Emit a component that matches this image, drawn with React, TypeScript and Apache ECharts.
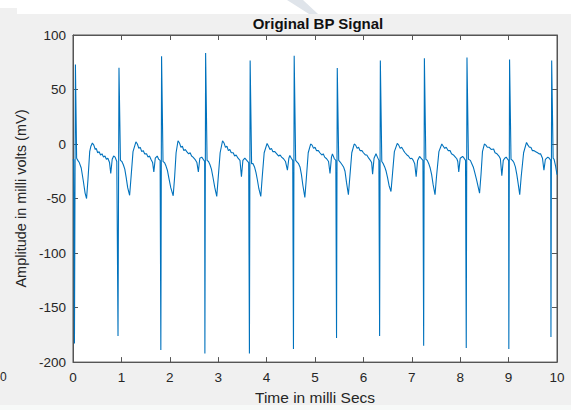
import React, { useEffect, useRef } from "react";
import * as echarts from "echarts";

// Original BP signal as [time (ms), amplitude (mV)] per beat
const beat01 = [[0.0, -15], [0.015, -14], [0.03, -183], [0.05, 73], [0.075, -13], [0.1, -15], [0.13, -17], [0.17, -22], [0.21, -33], [0.25, -45], [0.28, -50], [0.31, -32], [0.345, -7], [0.37, -2], [0.4, 1], [0.43, -1], [0.46, -5], [0.48, -4], [0.51, -8], [0.54, -7], [0.57, -10], [0.6, -9], [0.63, -12], [0.66, -11], [0.69, -14], [0.72, -13], [0.755, -17], [0.78, -27], [0.81, -14], [0.84, -11], [0.87, -12], [0.905, -16]];
const beat02 = [[0.93, -176], [0.95, 70], [0.98, -15], [1.01, -16], [1.04, -19], [1.07, -23], [1.1, -31], [1.13, -40], [1.17, -47], [1.2, -30], [1.24, -7], [1.3, 2], [1.33, 0], [1.36, -4], [1.39, -3], [1.42, -7], [1.45, -6], [1.48, -9], [1.52, -9], [1.55, -12], [1.58, -11], [1.61, -14], [1.645, -17], [1.67, -25.5], [1.7, -13], [1.74, -11], [1.77, -14], [1.8, -15]];
const beat03 = [[1.815, -189], [1.83, 80.5], [1.86, -16], [1.89, -17], [1.92, -20], [1.95, -24], [1.98, -31], [2.02, -40], [2.07, -47.5], [2.1, -30], [2.13, -8], [2.17, 3], [2.2, 1], [2.23, -3], [2.26, -2], [2.29, -6], [2.32, -5], [2.35, -7], [2.39, -9], [2.42, -8], [2.45, -11], [2.48, -12], [2.52, -14], [2.56, -17], [2.59, -25.5], [2.62, -13], [2.66, -12], [2.69, -14], [2.72, -16]];
const beat04 = [[2.725, -192], [2.74, 83.5], [2.77, -15], [2.8, -16], [2.83, -19], [2.86, -23], [2.89, -30], [2.93, -40], [2.97, -48], [3.0, -31], [3.04, -8], [3.09, 3], [3.12, 1], [3.15, -3], [3.18, -2], [3.21, -6], [3.24, -5], [3.27, -8], [3.31, -8], [3.34, -11], [3.37, -10], [3.41, -13], [3.45, -15], [3.48, -30], [3.51, -15], [3.55, -13], [3.59, -15], [3.63, -17]];
const beat05 = [[3.645, -192], [3.66, 76.6], [3.69, -18], [3.72, -18], [3.75, -21], [3.78, -26], [3.81, -33], [3.84, -41], [3.88, -48], [3.91, -30], [3.95, -8], [4.01, 0.6], [4.04, -2], [4.07, -5], [4.1, -4], [4.13, -7], [4.17, -7], [4.21, -9], [4.25, -11], [4.28, -10], [4.31, -12], [4.35, -13.5], [4.39, -16], [4.43, -24], [4.46, -13], [4.48, -10.5], [4.51, -13], [4.54, -15]];
const beat06 = [[4.555, -188], [4.57, 81], [4.6, -15], [4.63, -16.5], [4.66, -18], [4.69, -21], [4.72, -28], [4.75, -38], [4.79, -49], [4.82, -32], [4.86, -8], [4.91, 0], [4.94, -1], [4.97, -4], [5.0, -3], [5.03, -6], [5.07, -6], [5.1, -8], [5.14, -10], [5.17, -9], [5.2, -12], [5.24, -13.5], [5.28, -16], [5.31, -27], [5.34, -12], [5.36, -9], [5.4, -13.5], [5.43, -15]];
const beat07 = [[5.445, -178], [5.46, 69.7], [5.49, -15], [5.52, -16.5], [5.56, -19], [5.59, -21], [5.62, -25], [5.65, -35], [5.69, -46.5], [5.72, -30], [5.76, -8], [5.81, 0], [5.84, -1], [5.87, -4], [5.9, -3], [5.93, -6], [5.97, -6], [6.0, -8], [6.04, -10], [6.07, -10], [6.11, -13], [6.14, -14.7], [6.17, -17], [6.19, -27.6], [6.22, -13], [6.26, -9], [6.29, -12], [6.32, -15]];
const beat08 = [[6.335, -176], [6.35, 76.6], [6.38, -16], [6.41, -18], [6.44, -21], [6.47, -25], [6.5, -31], [6.53, -38], [6.57, -43.5], [6.6, -28], [6.64, -7], [6.7, 0.6], [6.73, -1], [6.76, -4], [6.79, -3], [6.83, -6], [6.86, -8], [6.9, -10], [6.93, -11], [6.97, -13.5], [7.0, -13], [7.03, -15], [7.06, -18], [7.09, -30], [7.12, -15], [7.16, -11.4], [7.19, -13], [7.23, -15]];
const beat09 = [[7.245, -185], [7.26, 78.7], [7.29, -14], [7.32, -15], [7.35, -18], [7.38, -22], [7.41, -28], [7.44, -37], [7.48, -46.5], [7.51, -30], [7.56, -7], [7.62, 0], [7.65, -2], [7.68, -4], [7.71, -3], [7.75, -6], [7.79, -6], [7.82, -9], [7.86, -10], [7.9, -12], [7.93, -13.5], [7.95, -16], [7.97, -25.5], [8.0, -13], [8.05, -11.4], [8.08, -13], [8.11, -15]];
const beat10 = [[8.125, -187], [8.14, 79.3], [8.17, -14], [8.21, -15], [8.24, -18], [8.27, -21], [8.3, -26], [8.34, -33], [8.4, -45], [8.43, -28], [8.46, -7], [8.5, 0], [8.53, -1], [8.56, -3], [8.6, -3], [8.64, -5], [8.69, -4.5], [8.72, -8], [8.76, -9], [8.8, -11], [8.83, -13.5], [8.86, -29], [8.89, -15], [8.92, -13], [8.95, -12], [8.98, -14], [9.0, -15]];
const beat11 = [[9.005, -188], [9.02, 77.5], [9.05, -14], [9.08, -15], [9.11, -17], [9.14, -21], [9.17, -28], [9.2, -37], [9.23, -46.5], [9.26, -30], [9.31, -8], [9.37, 1.5], [9.4, -1], [9.43, -3], [9.46, -3], [9.49, -6], [9.52, -6], [9.56, -7], [9.6, -8], [9.63, -9], [9.66, -9], [9.7, -13], [9.73, -24], [9.76, -14], [9.81, -12], [9.84, -13], [9.87, -15]];
const beat12 = [[9.875, -177], [9.89, 76.6], [9.92, -13], [9.94, -14], [9.97, -20], [10.0, -28]];

const xTicks = { min: 0, max: 10, step: 1 };
const yTicks = { min: -200, max: 100, step: 50 };

const titleText = "Original BP Signal";
const xName = "Time in milli Secs";
const yName = "Amplitude in milli volts (mV)";

const signal = [
  ...beat01, ...beat02, ...beat03, ...beat04, ...beat05, ...beat06,
  ...beat07, ...beat08, ...beat09, ...beat10, ...beat11, ...beat12,
];

const FONT = "'Liberation Sans', Arial, Helvetica, sans-serif";
const AXIS = "#555555";
const TEXT = "#262626";

export default function App() {
  const ref = useRef<HTMLDivElement>(null);
  useEffect(() => {
    if (!ref.current) return;
    const chart = echarts.init(ref.current, undefined, { renderer: "svg" });
    const axisLine = { show: true, onZero: false, lineStyle: { color: AXIS, width: 1 } };
    const tick = { show: true, inside: true, length: 5, lineStyle: { color: AXIS } };
    chart.setOption({
      animation: false,
      backgroundColor: "#f0f0f0",
      textStyle: { fontFamily: FONT },
      title: {
        text: titleText,
        left: 313,
        top: 11,
        textAlign: "center",
        textStyle: { fontFamily: FONT, fontSize: 15, fontWeight: "bold", color: "#111" },
      },
      graphic: [
        { type: "rect", shape: { x: 0, y: 0, width: 571, height: 14 }, style: { fill: "#ffffff" }, silent: true, z: -10 },
        { type: "rect", shape: { x: 0, y: 8, width: 17, height: 6 }, style: { fill: "#f0f0f0" }, silent: true, z: -10 },
        { type: "polygon", shape: { points: [[287, 0], [303, 0], [318, 14], [309, 14]] }, style: { fill: "#dfe4ea" }, silent: true, z: -10 },
        { type: "rect", shape: { x: 0, y: 405, width: 571, height: 5 }, style: { fill: "#f7f9f8" }, silent: true, z: -10 },
        { type: "text", x: 0, y: 371, style: { text: "0", fontSize: 12, fontFamily: FONT, fill: TEXT }, silent: true },
      ],
      grid: {
        left: 73,
        top: 35,
        width: 484,
        height: 333,
        show: true,
        backgroundColor: "#ffffff",
        borderColor: AXIS,
        borderWidth: 1,
      },
      xAxis: [
        {
          type: "value",
          min: xTicks.min,
          max: xTicks.max,
          interval: xTicks.step,
          position: "bottom",
          name: xName,
          nameLocation: "middle",
          nameGap: 24,
          nameTextStyle: { fontFamily: FONT, fontSize: 15.5, color: TEXT },
          axisLine,
          axisTick: tick,
          axisLabel: { fontFamily: FONT, fontSize: 13.5, color: TEXT, margin: 8 },
          splitLine: { show: false },
        },
        {
          type: "value",
          min: xTicks.min,
          max: xTicks.max,
          interval: xTicks.step,
          position: "top",
          axisLine,
          axisTick: tick,
          axisLabel: { show: false },
          splitLine: { show: false },
        },
      ],
      yAxis: [
        {
          type: "value",
          min: yTicks.min,
          max: yTicks.max,
          interval: yTicks.step,
          position: "left",
          name: yName,
          nameLocation: "middle",
          nameGap: 43,
          nameTextStyle: { fontFamily: FONT, fontSize: 14.5, color: TEXT },
          axisLine,
          axisTick: tick,
          axisLabel: { fontFamily: FONT, fontSize: 13.5, color: TEXT, margin: 7 },
          splitLine: { show: false },
        },
        {
          type: "value",
          min: yTicks.min,
          max: yTicks.max,
          interval: yTicks.step,
          position: "right",
          axisLine,
          axisTick: tick,
          axisLabel: { show: false },
          splitLine: { show: false },
        },
      ],
      series: [
        {
          type: "line",
          name: "BP",
          data: signal,
          xAxisIndex: 0,
          yAxisIndex: 0,
          showSymbol: false,
          symbol: "none",
          lineStyle: { color: "#0072BD", width: 1.1 },
          clip: true,
        },
      ],
    });
    return () => chart.dispose();
  }, []);
  return (
    <div
      ref={ref}
      style={{ position: "fixed", left: 0, top: 0, width: 571, height: 410 }}
    />
  );
}
